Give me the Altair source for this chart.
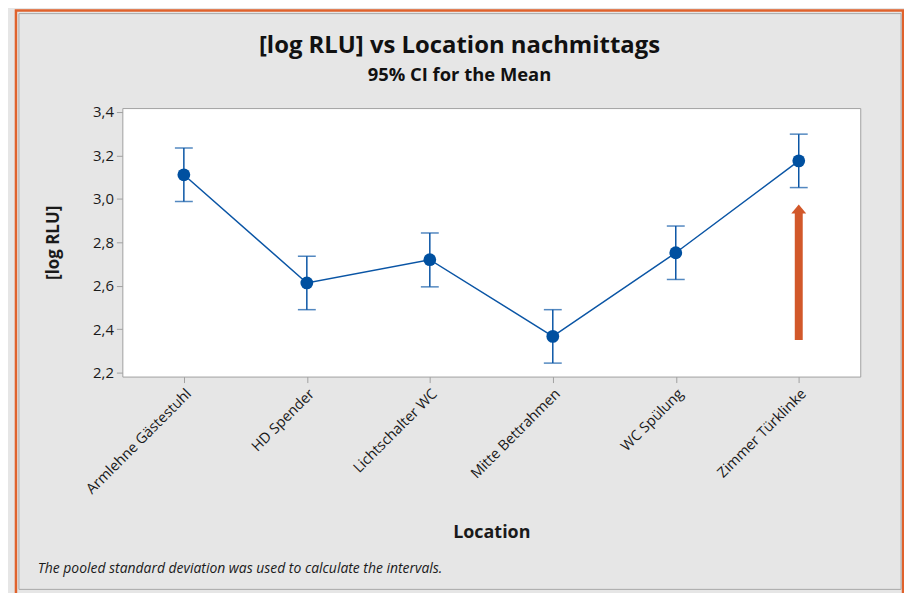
import altair as alt
import pandas as pd

locations = ["Armlehne Gästestuhl", "HD Spender", "Lichtschalter WC",
             "Mitte Bettrahmen", "WC Spülung", "Zimmer Türklinke"]
means = [3.111, 2.613, 2.720, 2.367, 2.752, 3.175]
lowers = [2.988, 2.490, 2.595, 2.244, 2.629, 3.052]
uppers = [3.234, 2.736, 2.843, 2.490, 2.875, 3.298]
y_ticks = [2.2, 2.4, 2.6, 2.8, 3.0, 3.2, 3.4]

arrow_location = ["Zimmer Türklinke"]
arrow_base = [2.35]
arrow_shaft_top = [2.94]
arrow_head = [2.953]

title_text = "[log RLU] vs Location nachmittags"
subtitle_text = "95% CI for the Mean"
x_title = "Location"
y_title = "[log RLU]"
footnote = "The pooled standard deviation was used to calculate the intervals."

FONT = "Open Sans"
BLUE = "#0a55a5"
ORANGE = "#d2582a"

df = pd.DataFrame({"location": locations, "mean": means,
                   "lower": lowers, "upper": uppers})
arrow_df = pd.DataFrame({"location": arrow_location, "base": arrow_base,
                         "top": arrow_shaft_top, "head": arrow_head})

x_enc = alt.X("location:N", sort=locations,
              scale=alt.Scale(type="point", padding=0.5),
              axis=alt.Axis(title=x_title, labelAngle=315, labelFontSize=14.5,
                            labelFont=FONT, labelColor="#1a1a1a",
                            titleFont=FONT, titleFontSize=18, titleFontWeight="bold",
                            titleColor="#1a1a1a", titleY=148, titleBaseline="top",
                            tickColor="#a0a0a0", tickSize=6, domain=False,
                            labelPadding=4))
y_scale = alt.Scale(domain=[2.182, 3.418], nice=False, zero=False)
y_axis = alt.Axis(title=y_title, values=y_ticks,
                  labelExpr="replace(format(datum.value, '.1f'), '.', ',')",
                  labelFont=FONT, labelFontSize=15, labelColor="#1a1a1a",
                  titleFont=FONT, titleFontSize=17, titleFontWeight="bold",
                  titleColor="#1a1a1a", titleX=-60, titleY=135,
                  tickColor="#a0a0a0", tickSize=6, domain=False, grid=False,
                  labelPadding=3)

base = alt.Chart(df)

frame_outer = alt.Chart(alt.Data(values=[{}])).mark_rect(
    fill="transparent", stroke="#e0622c", strokeWidth=2.5
).encode(x=alt.value(-107), x2=alt.value(785), y=alt.value(-98), y2=alt.value(495))

frame_inner = alt.Chart(alt.Data(values=[{}])).mark_rect(
    fill="transparent", stroke="#a8a8a8", strokeWidth=1
).encode(x=alt.value(-104), x2=alt.value(783), y=alt.value(-95), y2=alt.value(484))

bars = base.mark_rule(color=BLUE, strokeWidth=1.5).encode(
    x=x_enc, y=alt.Y("lower:Q", scale=y_scale, axis=y_axis), y2="upper:Q")
cap_hi = base.mark_tick(color=BLUE, size=18, thickness=1.5).encode(
    x=x_enc, y=alt.Y("upper:Q", scale=y_scale))
cap_lo = base.mark_tick(color=BLUE, size=18, thickness=1.5).encode(
    x=x_enc, y=alt.Y("lower:Q", scale=y_scale))
line = base.mark_line(color=BLUE, strokeWidth=1.5).encode(
    x=x_enc, y=alt.Y("mean:Q", scale=y_scale))
points = base.mark_circle(color="#0050a0", size=165, opacity=1).encode(
    x=x_enc, y=alt.Y("mean:Q", scale=y_scale))

arrow_shaft = alt.Chart(arrow_df).mark_rule(
    color=ORANGE, strokeWidth=8, strokeCap="butt"
).encode(x=x_enc, y=alt.Y("base:Q", scale=y_scale), y2="top:Q")
arrow_tip = alt.Chart(arrow_df).mark_point(
    shape="M-1,0.6L0,-0.6L1,0.6Z", filled=True, color=ORANGE, size=225, opacity=1
).encode(x=x_enc, y=alt.Y("head:Q", scale=y_scale))

note = alt.Chart(alt.Data(values=[{"t": footnote}])).mark_text(
    align="left", baseline="middle", font=FONT, fontSize=14,
    fontStyle="italic", color="#1a1a1a"
).encode(x=alt.value(-85), y=alt.value(464), text="t:N")

chart = alt.layer(
    frame_outer, frame_inner, bars, cap_hi, cap_lo, line, points,
    arrow_shaft, arrow_tip, note
).properties(
    width=742, height=270,
    autosize=alt.AutoSizeParams(type="none"),
    padding={"left": 115, "top": 99, "right": 44, "bottom": 216},
    background="#e6e6e6",
    title=alt.TitleParams(
        text=title_text, subtitle=subtitle_text, font=FONT, fontSize=24,
        fontWeight="bold", color="#111111", subtitleFont=FONT,
        subtitleFontSize=18.5, subtitleFontWeight="bold", subtitleColor="#111111",
        anchor="middle", frame="group", dx=-32, offset=-76, subtitlePadding=9
    )
).configure_view(
    fill="white", stroke="#a0a0a0", strokeWidth=1
)

chart.save("out.html", embed_options={"renderer": "svg", "actions": False})
